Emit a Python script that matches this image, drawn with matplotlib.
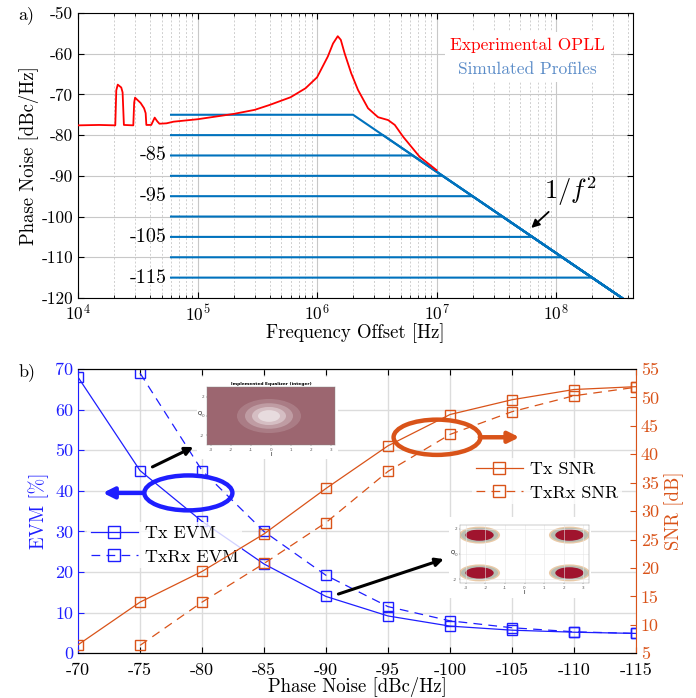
import numpy as np
import matplotlib
matplotlib.use('Agg')
import matplotlib.pyplot as plt
from matplotlib.patches import Ellipse, Rectangle

plt.rcParams['font.family'] = ['cmr10', 'DejaVu Serif']
plt.rcParams['mathtext.fontset'] = 'cm'
plt.rcParams['axes.unicode_minus'] = False
plt.rcParams['axes.formatter.use_mathtext'] = False

# a) measured OPLL phase noise, read off the picture
opll_freq = [1e4, 1.5e4, 2.05e4, 2.09e4, 2.15e4, 2.3e4, 2.36e4, 2.42e4, 2.9e4, 2.95e4,
             3.0e4, 3.34e4, 3.57e4, 3.68e4, 3.73e4, 4.1e4, 4.38e4, 4.6e4, 4.8e4, 5.5e4,
             6.3e4, 1e5, 2e5, 3e5, 4e5, 6.0e5, 8.0e5, 1e6, 1.23e6, 1.36e6, 1.49e6, 1.58e6,
             1.7e6, 1.93e6, 2.2e6, 2.67e6, 3.24e6, 3.93e6, 4.47e6, 5.25e6, 7.2e6, 1e7]
opll_pn = [-77.6, -77.5, -77.6, -69.0, -67.6, -68.3, -69.5, -77.5, -77.6, -72.0,
           -70.8, -72.1, -73.4, -74.6, -77.5, -77.5, -75.7, -76.6, -77.2, -77.1,
           -76.7, -76.1, -74.8, -73.8, -72.6, -70.7, -68.5, -65.8, -60.7, -57.5, -55.7, -56.6,
           -59.9, -64.8, -68.9, -73.4, -75.6, -76.3, -77.5, -80.4, -85.3, -88.6]

# a) simulated profiles: flat level up to corner, then 1/f^2 down to -120
profile_levels = [-75, -80, -85, -90, -95, -100, -105, -110, -115]
profile_corner = [2.0e6, 3.56e6, 6.3e6, 1.12e7, 2.0e7, 3.56e7, 6.3e7, 1.12e8, 2.0e8]
profile_start = 6e4
profile_end = 3.56e8
level_labels = ['-85', '-95', '-105', '-115']

# b) EVM / SNR vs phase noise
pn = [-70, -75, -80, -85, -90, -95, -100, -105, -110, -115]
pn_rx = [-75, -80, -85, -90, -95, -100, -105, -110, -115]
tx_evm = [68, 45, 32.5, 22, 14, 9.2, 6.7, 5.7, 5.2, 4.9]
txrx_evm = [69, 45, 30, 19.2, 11.5, 8.0, 6.3, 5.3, 4.9]
tx_snr = [6.5, 14.0, 19.4, 26.0, 34.0, 41.5, 47.0, 49.6, 51.4, 51.9]
txrx_snr = [6.4, 14.0, 20.8, 28.0, 37.0, 43.5, 47.5, 50.3, 51.8]

RED = '#FF0000'
MBLUE = '#0072BD'
BLUE = '#1E1EFF'
ORANGE = '#D95319'

fig = plt.figure(figsize=(6.96, 6.98), dpi=100)

# ---------------- a) ----------------
ax1 = fig.add_axes([0.1121, 0.5731, 0.7974, 0.4083])
ax1.set_xscale('log')
for lev, fc in zip(profile_levels, profile_corner):
    ax1.plot([profile_start, fc, profile_end], [lev, lev, -120], color=MBLUE, lw=1.5, zorder=3)
ax1.plot(opll_freq, opll_pn, color=RED, lw=1.3, zorder=4)
ax1.set_xlim(1e4, 4.4e8)
ax1.set_ylim(-120, -50)
ax1.set_yticks(np.arange(-120, -49, 10))
ax1.grid(True, which='major', color='#C8C8C8', lw=0.8)
ax1.grid(True, which='minor', axis='x', color='#CFCFCF', lw=0.7, ls=(0, (2, 2)))
ax1.tick_params(which='both', direction='in', top=True, right=True, labelsize=12.5)
ax1.tick_params(which='major', length=4)
ax1.tick_params(which='minor', length=2)
ax1.set_xlabel('Frequency Offset [Hz]', fontsize=13.5, labelpad=0)
ax1.set_ylabel('Phase Noise [dBc/Hz]', fontsize=13.5, labelpad=2)
for lab in level_labels:
    ax1.text(5.5e4, float(lab), lab, ha='right', va='center', fontsize=14.5)
ax1.text(5.8e7, -57.9, 'Experimental OPLL', color=RED, fontsize=12.5, ha='center',
         va='center', bbox=dict(facecolor='white', edgecolor='none', pad=4), zorder=6)
ax1.text(5.8e7, -63.8, 'Simulated Profiles', color='#5B8CC8', fontsize=12.5, ha='center',
         va='center', bbox=dict(facecolor='white', edgecolor='none', pad=4), zorder=6)
ax1.annotate(r'$1/f^2$', xy=(6.2e7, -102.8), xytext=(1.33e8, -93.8), fontsize=19,
             ha='center', va='center', zorder=7,
             arrowprops=dict(arrowstyle='-|>', color='k', lw=1.3, mutation_scale=12,
                             shrinkA=1, shrinkB=0))
for sp in ax1.spines.values():
    sp.set_linewidth(0.8)
fig.text(0.026, 0.979, 'a)', fontsize=13, va='center')

# ---------------- b) ----------------
ax2 = fig.add_axes([0.1121, 0.0640, 0.8017, 0.4073])
ax3 = ax2.twinx()
ax2.plot(pn, tx_evm, color=BLUE, lw=0.9, marker='s', ms=6.5, mfc='none', mew=1.0,
         label='Tx EVM')
ax2.plot(pn_rx, txrx_evm, color=BLUE, lw=0.9, ls=(0, (7, 5)), marker='s', ms=6.5, mfc='none',
         mew=1.0, label='TxRx EVM')
ax3.plot(pn, tx_snr, color=ORANGE, lw=0.9, marker='s', ms=6.5, mfc='none', mew=1.0,
         label='Tx SNR')
ax3.plot(pn_rx, txrx_snr, color=ORANGE, lw=0.9, ls=(0, (7, 5)), marker='s', ms=6.5, mfc='none',
         mew=1.0, label='TxRx SNR')
ax2.set_xlim(-70, -115)
ax2.set_xticks(pn)
ax2.set_ylim(0, 70)
ax2.set_yticks(np.arange(0, 71, 10))
ax3.set_ylim(5, 55)
ax3.set_yticks(np.arange(5, 56, 5))
ax2.grid(True, color='#DCDCDC', lw=1.0)
ax2.set_axisbelow(True)
ax2.tick_params(direction='in', top=True, length=4, labelsize=13)
ax2.tick_params(axis='x', pad=7)
ax2.tick_params(axis='y', colors=BLUE)
ax2.tick_params(axis='x', colors='k')
ax3.tick_params(direction='in', length=4, labelsize=13, colors=ORANGE)
ax2.spines['left'].set_color(BLUE)
ax2.spines['right'].set_visible(False)
ax3.spines['left'].set_visible(False)
ax3.spines['right'].set_color(ORANGE)
for sp in list(ax2.spines.values()) + list(ax3.spines.values()):
    sp.set_linewidth(0.8)
ax2.set_xlabel('Phase Noise [dBc/Hz]', fontsize=13.5, labelpad=-1)
ax2.set_ylabel('EVM [%]', fontsize=13.5, color=BLUE, labelpad=4)
ax3.set_ylabel('SNR [dB]', fontsize=13.5, color=ORANGE, labelpad=4)

leg1 = ax2.legend(loc='upper left', bbox_to_anchor=(0.0, 0.495), fontsize=13, frameon=True,
                  facecolor='white', edgecolor='none', fancybox=False, handlelength=2.6,
                  markerscale=1.35, borderpad=0.2, labelspacing=0.45, handletextpad=0.4)
leg2 = ax3.legend(loc='upper left', bbox_to_anchor=(0.69, 0.72), fontsize=13, frameon=True,
                  facecolor='white', edgecolor='none', fancybox=False, handlelength=2.6,
                  markerscale=1.35, borderpad=0.2, labelspacing=0.45, handletextpad=0.4)
leg1.set_zorder(8)
leg2.set_zorder(8)

# highlight ellipses and arrows
ax2.add_patch(Ellipse((-78.9, 39.5), 7.1, 8.6, fill=False, ec=BLUE, lw=3.2, zorder=6))
ax2.annotate('', xy=(-72.0, 39.5), xytext=(-75.3, 39.5),
             arrowprops=dict(arrowstyle='-|>', color=BLUE, lw=3.2, mutation_scale=16,
                             shrinkA=0, shrinkB=0), zorder=6)
ax3.add_patch(Ellipse((-98.95, 43.0), 7.0, 6.2, fill=False, ec=ORANGE, lw=3.2, zorder=6))
ax3.annotate('', xy=(-105.6, 43.0), xytext=(-102.4, 43.0),
             arrowprops=dict(arrowstyle='-|>', color=ORANGE, lw=3.2, mutation_scale=16,
                             shrinkA=0, shrinkB=0), zorder=6)
ax3.annotate('', xy=(-79.3, 5 + 50.8 * 50 / 70), xytext=(-76.0, 5 + 45.9 * 50 / 70),
             arrowprops=dict(arrowstyle='-|>', color='k', lw=2.2, mutation_scale=12,
                             shrinkA=0, shrinkB=0), zorder=6)
ax3.annotate('', xy=(-99.5, 5 + 23.2 * 50 / 70), xytext=(-91.0, 5 + 14.6 * 50 / 70),
             arrowprops=dict(arrowstyle='-|>', color='k', lw=2.2, mutation_scale=12,
                             shrinkA=0, shrinkB=0), zorder=6)
fig.text(0.026, 0.467, 'b)', fontsize=13, va='center')

# constellation insets (sketched)
W, H = 696.0, 698.0
for (x0, y0, x1, y1) in [(197, 377, 338, 459), (449, 517, 591, 598)]:
    fig.patches.append(Rectangle((x0 / W, 1 - y1 / H), (x1 - x0) / W, (y1 - y0) / H,
                                 transform=fig.transFigure, fc='white', ec='none', zorder=1))

in1 = fig.add_axes([207 / W, 1 - 445 / H, 128 / W, 58 / H])
in1.set_zorder(2)
in1.set_facecolor('#9C6670')
for w, a in [(3.2, 0.15), (2.4, 0.25), (1.7, 0.35), (1.1, 0.45)]:
    in1.add_patch(Ellipse((-0.1, 0.0), w, w * 1.1, fc='white', ec='none', alpha=a))
in1.set_xlim(-3.2, 3.2)
in1.set_ylim(-3, 3)
in1.set_xticks([-3, -2, -1, 0, 1, 2, 3])
in1.set_yticks([-2, 0, 2])
in1.set_title('Implemented Equalizer (integer)', fontsize=3.2, pad=1.5, family='DejaVu Sans',
              fontweight='bold')
in1.set_xlabel('I', fontsize=4, labelpad=0.5, family='DejaVu Sans')
in1.set_ylabel('Q', fontsize=4, labelpad=0.5, family='DejaVu Sans', rotation=0)

in2 = fig.add_axes([460 / W, 1 - 583 / H, 129 / W, 58 / H])
in2.set_zorder(2)
in2.set_facecolor('white')
in2.grid(True, color='#E6E6E6', lw=0.4)
for cx in (-2.3, 2.3):
    for cy in (-1.5, 1.5):
        in2.add_patch(Ellipse((cx, cy), 2.1, 1.35, fc='#D9A060', ec='none', alpha=0.55))
        in2.add_patch(Ellipse((cx, cy), 1.9, 1.15, fc='#5FA8C8', ec='none', alpha=0.35))
        in2.add_patch(Ellipse((cx, cy), 1.45, 0.9, fc='#A0142E', ec='none'))
in2.set_xlim(-3.3, 3.3)
in2.set_ylim(-2.3, 2.3)
in2.set_xticks([-3, -2, -1, 0, 1, 2, 3])
in2.set_yticks([-2, 0, 2])
in2.set_xlabel('I', fontsize=4, labelpad=0.5, family='DejaVu Sans')
in2.set_ylabel('Q', fontsize=4, labelpad=0.5, family='DejaVu Sans', rotation=0)

for ax in (in1, in2):
    ax.tick_params(labelsize=3, length=1, width=0.3, pad=1, colors='#555555')
    for lab in ax.get_xticklabels() + ax.get_yticklabels():
        lab.set_family('DejaVu Sans')
    for sp in ax.spines.values():
        sp.set_linewidth(0.3)
        sp.set_color('#888888')

fig.savefig('out.png', dpi=100)
